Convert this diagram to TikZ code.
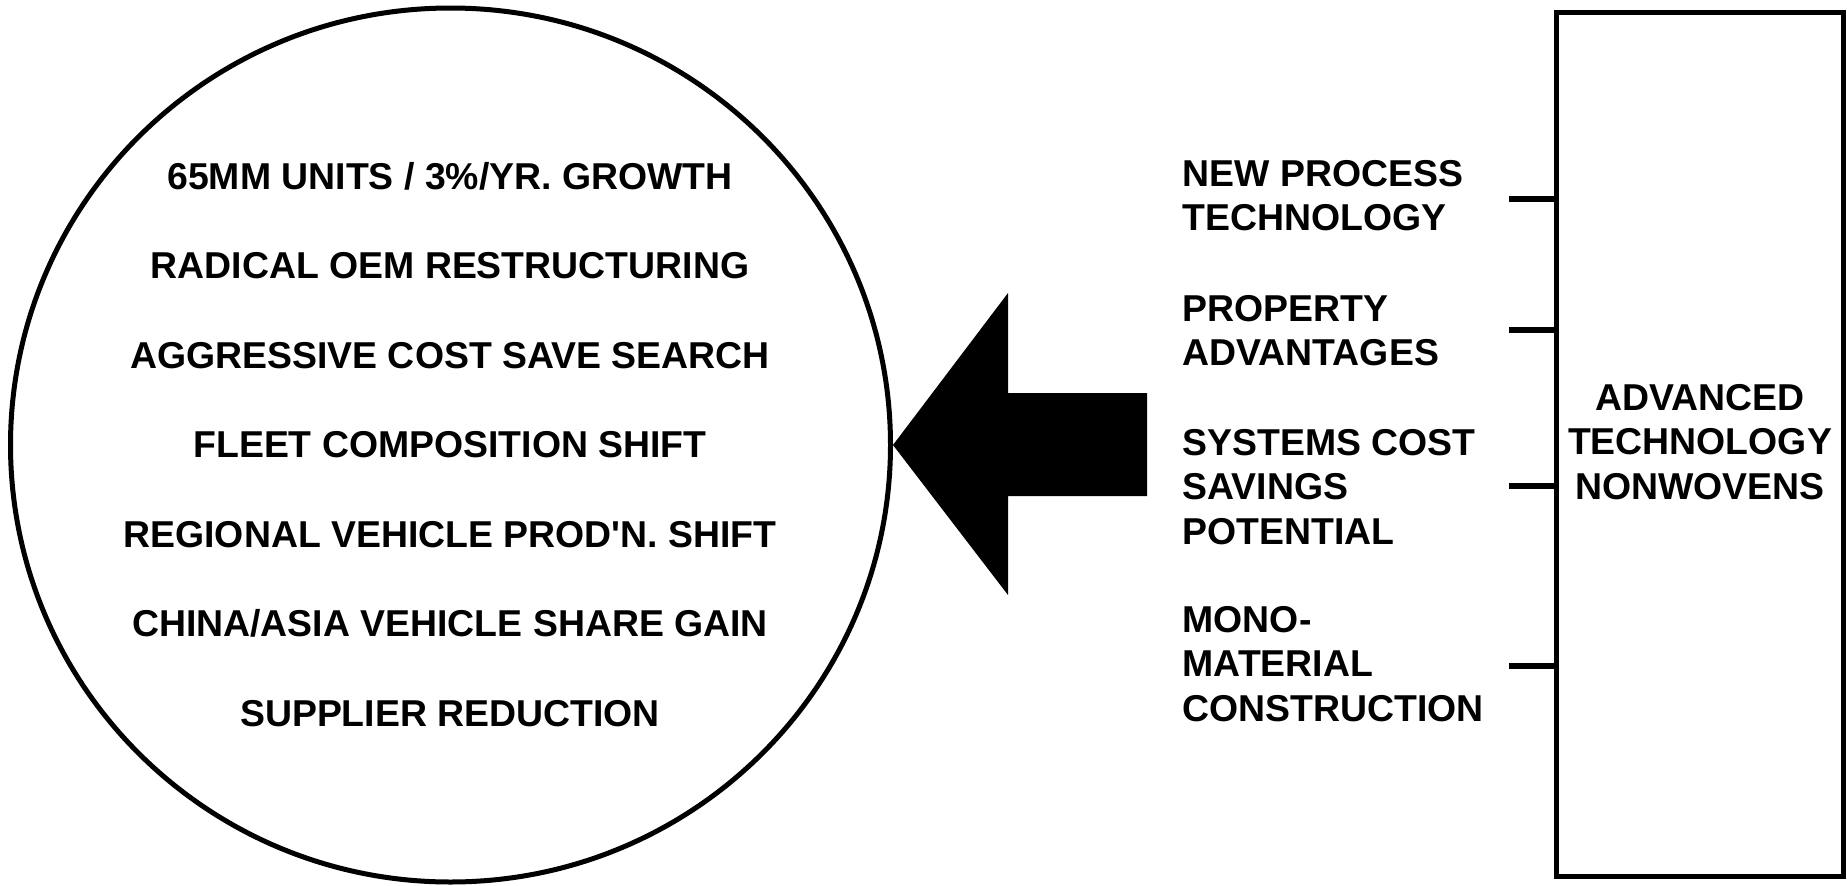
\documentclass[tikz,border=0pt]{standalone}
\usepackage{fontspec}
\newfontfamily\labfont{Liberation Sans}
\usetikzlibrary{shapes.geometric}
\begin{document}
\begin{tikzpicture}[x=1pt,y=-1pt,
  every node/.style={font=\labfont\bfseries\fontsize{37.4}{44.7}\selectfont, inner sep=0pt},
  ring/.style={draw, ellipse, line width=5pt, minimum width=880pt, minimum height=874pt},
  frame/.style={draw, rectangle, line width=5pt, minimum width=287pt, minimum height=864pt},
  item/.style={anchor=base},
  lab/.style={anchor=base west},
  tick/.style={line width=5.5pt},
  bigarrow/.style={fill=black}]
\useasboundingbox (0,0) rectangle (1847,886);

% circle with market drivers
\node[ring] (circ) at (450.5,445) {};
\node[item] (d1) at (450,189) {65MM UNITS / 3\%/YR. GROWTH};
\node[item] (d2) at (450,278.5) {RADICAL OEM RESTRUCTURING};
\node[item] (d3) at (450,368) {AGGRESSIVE COST SAVE SEARCH};
\node[item] (d4) at (450,457.5) {FLEET COMPOSITION SHIFT};
\node[item] (d5) at (450,547) {REGIONAL VEHICLE PROD'N. SHIFT};
\node[item] (d6) at (450,636.5) {CHINA/ASIA VEHICLE SHARE GAIN};
\node[item] (d7) at (450,726) {SUPPLIER REDUCTION};

% box
\node[frame] (box) at (1700,444.5) {};
\node[anchor=base] (boxlabel) at (1700,410) {\begin{tabular}[t]{@{}c@{}}ADVANCED\\TECHNOLOGY\\NONWOVENS\end{tabular}};

% labels
\node[lab] (l1) at (1182.5,186) {\begin{tabular}[t]{@{}l@{}}NEW PROCESS\\TECHNOLOGY\end{tabular}};
\node[lab] (l2) at (1182.5,321) {\begin{tabular}[t]{@{}l@{}}PROPERTY\\ADVANTAGES\end{tabular}};
\node[lab] (l3) at (1182.5,455) {\begin{tabular}[t]{@{}l@{}}SYSTEMS COST\\SAVINGS\\POTENTIAL\end{tabular}};
\node[lab] (l4) at (1182.5,632) {\begin{tabular}[t]{@{}l@{}}MONO-\\MATERIAL\\CONSTRUCTION\end{tabular}};

% ticks
\coordinate (t1) at (1509,199);
\coordinate (t2) at (1509,330);
\coordinate (t3) at (1509,486);
\coordinate (t4) at (1509,666);
\draw[tick] (t1) -- (t1 -| box.west);
\draw[tick] (t2) -- (t2 -| box.west);
\draw[tick] (t3) -- (t3 -| box.west);
\draw[tick] (t4) -- (t4 -| box.west);

% big arrow
\fill[bigarrow] (circ.east) -- (1008,293) -- (1008,393) -- (1147,393) -- (1147,496) -- (1008,496) -- (1008,595) -- cycle;
\end{tikzpicture}
\end{document}
